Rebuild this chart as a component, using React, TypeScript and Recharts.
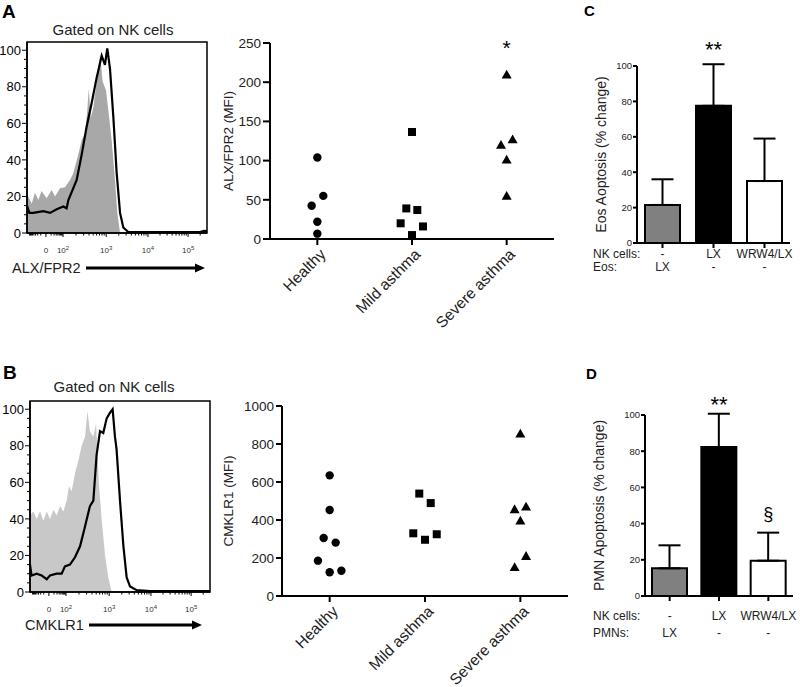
import {
  Area,
  Bar,
  BarChart,
  Cell,
  ComposedChart,
  ErrorBar,
  Line,
  ReferenceArea,
  ReferenceDot,
  Scatter,
  ScatterChart,
  XAxis,
  YAxis,
} from 'recharts';

const FONT = '"Liberation Sans", Arial, sans-serif';

// --- histograms (x in display channels 0..1000, y in % of max) ---
const histMajorTicks = [105, 200, 440, 672, 895];
const histTickLabels = ['0', '10^2', '10^3', '10^4', '10^5'];

const alxIsoX = [0, 7, 26, 44, 63, 81, 109, 137, 156, 183, 211, 239, 257, 285, 304, 322, 335, 343, 354, 369, 387, 406, 420, 439, 452, 470, 489, 502, 517, 1000];
const alxIsoY = [20, 20, 16, 22, 18, 23, 19, 23.5, 20, 24.5, 25, 29, 32.6, 43, 51, 54, 67, 79, 63, 69, 83, 98, 83, 78, 67, 51, 29, 11, 0, 0];
const alxStainX = [0, 13, 35, 91, 128, 165, 202, 220, 230, 276, 304, 331, 359, 387, 415, 433, 446, 461, 480, 498, 517, 535, 563, 961, 983, 1000];
const alxStainY = [15, 11, 11, 12, 11, 13, 14.5, 13.5, 18, 29, 43, 58, 71, 85, 97, 92, 101, 90, 63, 33, 11, 3, 0.5, 0.5, 1.2, 1];

const cmkIsoX = [0, 19, 37, 56, 74, 93, 111, 130, 148, 167, 185, 204, 217, 231, 250, 269, 287, 306, 319, 333, 352, 367, 382, 398, 417, 435, 454, 1000];
const cmkIsoY = [42, 44, 40, 44, 39, 44, 40, 45, 42, 47, 44, 50, 58, 55, 65, 72, 80, 85, 99, 88, 85, 92, 60, 40, 20, 8, 0, 0];
const cmkStainX = [0, 9, 37, 65, 93, 111, 148, 176, 194, 222, 250, 278, 306, 333, 352, 370, 389, 407, 426, 444, 459, 472, 481, 500, 519, 537, 556, 593, 667, 1000];
const cmkStainY = [15, 9, 10, 9, 7, 9, 10, 10, 14, 15, 19, 25, 36, 47, 50, 75, 88, 87, 95, 98, 100, 85, 78, 50, 25, 8, 3, 1, 0.5, 0.5];

// --- scatter panels ---
const groups = ['Healthy', 'Mild asthma', 'Severe asthma'];

const alxHealthy = [104, 55, 42.5, 22, 6.8];
const alxHealthyJit = [0, 0.063, -0.06, 0, 0];
const alxMild = [136.5, 39, 37, 20, 16, 5];
const alxMildJit = [0, -0.06, 0.056, -0.12, 0.116, 0];
const alxSevere = [209.6, 127, 120, 101, 55];
const alxSevereJit = [0, 0.063, -0.06, 0, 0];

const cmkHealthy = [635, 453, 305, 281, 186, 133, 125];
const cmkHealthyJit = [0, 0, -0.063, 0.063, -0.123, 0.123, 0];
const cmkMild = [539, 489, 330, 325, 296];
const cmkMildJit = [-0.06, 0.06, -0.123, 0.123, 0];
const cmkSevere = [854, 456, 470, 396, 210, 151];
const cmkSevereJit = [0, -0.06, 0.06, 0, 0.06, -0.06];

// --- bar panels ---
const barCats = ['a', 'b', 'c'];
const barFills = ['#808080', '#000000', '#ffffff'];
const eosMean = [21.5, 77.5, 35];
const eosErr = [14.5, 23.5, 24];
const eosSig = ['', '**', ''];
const eosRowNK = ['-', 'LX', 'WRW4/LX'];
const eosRowEos = ['LX', '-', '-'];

const pmnMean = [15.3, 82.3, 19.5];
const pmnErr = [12.7, 18.4, 15.5];
const pmnSig = ['', '**', '§'];
const pmnRowNK = ['-', 'LX', 'WRW4/LX'];
const pmnRowPMN = ['LX', '-', '-'];

const pts = (vals: number[], jit: number[], cat: number) =>
  vals.map((v, i) => ({ x: cat + jit[i], y: v }));

const toXY = (xs: number[], ys: number[]) => xs.map((x, i) => ({ x, y: ys[i] }));

// minor ticks for the biexponential axis
const minorTicks: number[] = [];
[[105, 95], [200, 240], [440, 232], [672, 223], [895, 223]].forEach(([a, span]) => {
  for (let k = 2; k <= 9; k++) {
    const v = a + span * Math.log10(k);
    if (v < 1000) minorTicks.push(v);
  }
});
for (let k = 2; k <= 9; k++) minorTicks.push(105 - 95 * Math.log10(k));
const histTicks = [...histMajorTicks, ...minorTicks.filter((v) => v > 0)].sort((a, b) => a - b);
const histYTicks = Array.from({ length: 21 }, (_, i) => i * 5);

function HistXTick({ x, y, payload }: any) {
  const i = histMajorTicks.indexOf(payload.value);
  const major = i >= 0;
  const [base, exp] = major ? histTickLabels[i].split('^') : ['', undefined];
  return (
    <g>
      <line x1={x} y1={y} x2={x} y2={y + (major ? 4 : 2.5)} stroke="#000" strokeWidth={1} />
      {major && (
        <text x={x} y={y + 20} textAnchor="middle" fontSize={8} fill="#333" fontFamily={FONT}>
          {base}
          {exp && (
            <tspan dy={-3} fontSize={6}>
              {exp}
            </tspan>
          )}
        </text>
      )}
    </g>
  );
}

function HistYTick({ x, y, payload }: any) {
  const major = payload.value % 20 === 0;
  return (
    <g>
      <line x1={x} y1={y} x2={x - (major ? 5 : 3)} y2={y} stroke="#000" strokeWidth={1} />
      {major && (
        <text x={x - 6} y={y} dy="0.36em" textAnchor="end" fontSize={13} fontFamily={FONT} fill="#000">
          {payload.value}
        </text>
      )}
    </g>
  );
}

function Histogram({ iso, stain, isoFill }: { iso: any[]; stain: any[]; isoFill: string }) {
  return (
    <ComposedChart width={215} height={260} margin={{ top: 42, right: 8, bottom: 0, left: 0 }}>
      <XAxis
        type="number"
        dataKey="x"
        domain={[0, 1000]}
        ticks={histTicks}
        interval={0}
        tick={(p: any) => <HistXTick {...p} />}
        tickLine={false}
        tickSize={0}
        tickMargin={0}
        height={27}
        axisLine={{ stroke: '#000', strokeWidth: 1.5 }}
      />
      <YAxis
        type="number"
        domain={[0, 104.5]}
        ticks={histYTicks}
        interval={0}
        tick={(p: any) => <HistYTick {...p} />}
        tickLine={false}
        tickSize={0}
        tickMargin={0}
        width={27}
        axisLine={{ stroke: '#000', strokeWidth: 1.5 }}
        allowDataOverflow
      />
      <Area data={iso} dataKey="y" type="linear" fill={isoFill} fillOpacity={1} stroke="none" isAnimationActive={false} />
      <Line data={stain} dataKey="y" type="linear" stroke="#000" strokeWidth={2.2} dot={false} isAnimationActive={false} />
      <ReferenceArea x1={0} x2={1000} y1={0} y2={104.5} fillOpacity={0} stroke="#000" strokeWidth={1.5} ifOverflow="visible" />
    </ComposedChart>
  );
}

const Dot = ({ cx, cy }: any) => <circle cx={cx} cy={cy} r={4.2} fill="#000" />;
const Sq = ({ cx, cy }: any) => <rect x={cx - 4} y={cy - 4} width={8} height={8} fill="#000" />;
const Tri = ({ cx, cy }: any) => <path d={`M${cx} ${cy - 5}L${cx + 5} ${cy + 3.8}L${cx - 5} ${cy + 3.8}Z`} fill="#000" />;

function CatTick({ x, y, payload }: any) {
  const ax = x + 6;
  const ay = y + 13;
  return (
    <g>
      <line x1={x} y1={y} x2={x} y2={y + 6} stroke="#000" strokeWidth={2} />
      <text x={ax} y={ay} dy="0.3em" textAnchor="end" transform={`rotate(-45 ${ax} ${ay})`} fontSize={15.5} fontFamily={FONT} fill="#222">
        {groups[payload.value - 1]}
      </text>
    </g>
  );
}

const SigText = (text: string, dy: number, size: number) => (p: any) => (
  <text x={p.cx} y={p.cy + dy} textAnchor="middle" fontSize={size} fontFamily={FONT} fill="#000">
    {text}
  </text>
);

function Dotplot(props: {
  width: number;
  height: number;
  margin: any;
  yWidth: number;
  xHeight: number;
  labelOffset: number;
  yMax: number;
  yTicks: number[];
  label: string;
  sets: any[][];
  tickSize: number;
  star?: { x: number; y: number };
}) {
  const { width, height, margin, yWidth, xHeight, labelOffset, yMax, yTicks, label, sets, tickSize, star } = props;
  const shapes = [Dot, Sq, Tri];
  return (
    <ScatterChart width={width} height={height} margin={margin}>
      <XAxis
        type="number"
        dataKey="x"
        domain={[0.5, 3.5]}
        ticks={[1, 2, 3]}
        interval={0}
        tick={(p: any) => <CatTick {...p} />}
        tickLine={false}
        tickSize={0}
        tickMargin={0}
        height={xHeight}
        axisLine={{ stroke: '#000', strokeWidth: 2 }}
      />
      <YAxis
        type="number"
        dataKey="y"
        domain={[0, yMax]}
        ticks={yTicks}
        interval={0}
        width={yWidth}
        tickSize={tickSize}
        tickMargin={2}
        tick={{ fontSize: 13.5, fill: '#222', fontFamily: FONT }}
        tickLine={{ stroke: '#000', strokeWidth: 2 }}
        axisLine={{ stroke: '#000', strokeWidth: 2 }}
        label={{
          value: label,
          angle: -90,
          position: 'insideLeft',
          offset: labelOffset,
          style: { textAnchor: 'middle', fontSize: 13.5, fontFamily: FONT, fill: '#222' },
        }}
      />
      {sets.map((d, i) => (
        <Scatter key={i} data={d} shape={shapes[i]} isAnimationActive={false} />
      ))}
      {star && (
        <ReferenceDot x={star.x} y={star.y} r={0} ifOverflow="visible" shape={SigText('*', 12, 21)} />
      )}
    </ScatterChart>
  );
}

function BarPanel(props: {
  width: number;
  height: number;
  margin: any;
  yWidth: number;
  xHeight: number;
  labelOffset: number;
  label: string;
  mean: number[];
  err: number[];
  sig: string[];
  sigDy: number[];
  rows: string[][];
  rowDy: number[];
}) {
  const { width, height, margin, yWidth, xHeight, labelOffset, label, mean, err, sig, sigDy, rows, rowDy } = props;
  const data = barCats.map((c, i) => ({ cat: c, mean: mean[i], err: [0, err[i]] }));
  const Tick = ({ x, y, index }: any) => (
    <g>
      <line x1={x} y1={y} x2={x} y2={y + 5} stroke="#000" strokeWidth={2} />
      {rows.map((r, k) => (
        <text key={k} x={x} y={y + rowDy[k]} dy="0.35em" textAnchor="middle" fontSize={12} fontFamily={FONT} fill="#222">
          {r[index]}
        </text>
      ))}
    </g>
  );
  return (
    <BarChart width={width} height={height} data={data} margin={margin}>
      <XAxis
        dataKey="cat"
        interval={0}
        tick={(p: any) => <Tick {...p} />}
        tickLine={false}
        tickSize={0}
        tickMargin={0}
        height={xHeight}
        axisLine={{ stroke: '#000', strokeWidth: 2 }}
      />
      <YAxis
        type="number"
        domain={[0, 100]}
        ticks={[0, 20, 40, 60, 80, 100]}
        interval={0}
        width={yWidth}
        tickSize={4}
        tickMargin={1}
        tick={{ fontSize: 9.5, fill: '#222', fontFamily: FONT }}
        tickLine={{ stroke: '#000', strokeWidth: 2 }}
        axisLine={{ stroke: '#000', strokeWidth: 2 }}
        allowDataOverflow
        label={{
          value: label,
          angle: -90,
          position: 'insideLeft',
          offset: labelOffset,
          style: { textAnchor: 'middle', fontSize: 14, fontFamily: FONT, fill: '#222' },
        }}
      />
      <Bar dataKey="mean" barSize={35} stroke="#000" strokeWidth={2} isAnimationActive={false}>
        {data.map((_, i) => (
          <Cell key={i} fill={barFills[i]} />
        ))}
        <ErrorBar dataKey="err" width={11} stroke="#000" strokeWidth={2} />
      </Bar>
      {sig.map((s, i) =>
        s ? (
          <ReferenceDot
            key={i}
            x={barCats[i]}
            y={mean[i] + err[i]}
            r={0}
            ifOverflow="visible"
            shape={SigText(s, -sigDy[i], s === '§' ? 18 : 22)}
          />
        ) : null,
      )}
    </BarChart>
  );
}

function Arrow({ x1, x2, y }: { x1: number; x2: number; y: number }) {
  return (
    <g>
      <line x1={x1} y1={y} x2={x2 - 8} y2={y} stroke="#000" strokeWidth={3} />
      <path d={`M${x2} ${y}L${x2 - 10} ${y - 4.5}L${x2 - 10} ${y + 4.5}Z`} fill="#000" />
    </g>
  );
}

export default function App() {
  const abs = (left: number, top: number) => ({ position: 'absolute' as const, left, top });
  return (
    <div style={{ position: 'absolute', left: 0, top: 0, width: 800, height: 687, background: '#fff', fontFamily: FONT, overflow: 'hidden' }}>
      <div style={abs(0, 0)}>
        <Histogram iso={toXY(alxIsoX, alxIsoY)} stain={toXY(alxStainX, alxStainY)} isoFill="#a8a8a8" />
      </div>
      <div style={abs(3, 359)}>
        <Histogram iso={toXY(cmkIsoX, cmkIsoY)} stain={toXY(cmkStainX, cmkStainY)} isoFill="#c8c8c8" />
      </div>
      <div style={abs(210, 0)}>
        <Dotplot
          width={350}
          height={340}
          margin={{ top: 43, right: 6, bottom: 0, left: 5 }}
          yWidth={55}
          xHeight={101}
          labelOffset={13}
          yMax={250}
          yTicks={[0, 50, 100, 150, 200, 250]}
          label="ALX/FPR2 (MFI)"
          tickSize={7}
          sets={[pts(alxHealthy, alxHealthyJit, 1), pts(alxMild, alxMildJit, 2), pts(alxSevere, alxSevereJit, 3)]}
          star={{ x: 3, y: 250 }}
        />
      </div>
      <div style={abs(215, 340)}>
        <Dotplot
          width={360}
          height={347}
          margin={{ top: 66, right: 7, bottom: 0, left: 0 }}
          yWidth={67}
          xHeight={91}
          labelOffset={13}
          yMax={1000}
          yTicks={[0, 200, 400, 600, 800, 1000]}
          label="CMKLR1 (MFI)"
          tickSize={6}
          sets={[pts(cmkHealthy, cmkHealthyJit, 1), pts(cmkMild, cmkMildJit, 2), pts(cmkSevere, cmkSevereJit, 3)]}
        />
      </div>
      <div style={abs(540, 0)}>
        <BarPanel
          width={260}
          height={280}
          margin={{ top: 66, right: 10, bottom: 0, left: 55 }}
          yWidth={42}
          xHeight={37}
          labelOffset={6}
          label="Eos Aoptosis (% change)"
          mean={eosMean}
          err={eosErr}
          sig={eosSig}
          sigDy={[0, 7, 0]}
          rows={[eosRowNK, eosRowEos]}
          rowDy={[11, 24]}
        />
      </div>
      <div style={abs(540, 320)}>
        <BarPanel
          width={260}
          height={330}
          margin={{ top: 95, right: 7, bottom: 0, left: 50 }}
          yWidth={55}
          xHeight={54}
          labelOffset={9}
          label="PMN Apoptosis (% change)"
          mean={pmnMean}
          err={pmnErr}
          sig={pmnSig}
          sigDy={[0, 2, 13]}
          rows={[pmnRowNK, pmnRowPMN]}
          rowDy={[20, 37]}
        />
      </div>
      <svg width={800} height={687} style={{ position: 'absolute', left: 0, top: 0, pointerEvents: 'none' }} fontFamily={FONT}>
        <text x={2} y={18} fontSize={19} fontWeight="bold">A</text>
        <text x={113} y={35} fontSize={15} textAnchor="middle" fill="#222">Gated on NK cells</text>
        <text x={12} y={273} fontSize={14.5} fill="#222">ALX/FPR2</text>
        <Arrow x1={86} x2={205} y={268} />
        <text x={3} y={379} fontSize={19} fontWeight="bold">B</text>
        <text x={114} y={392} fontSize={15} textAnchor="middle" fill="#222">Gated on NK cells</text>
        <text x={25} y={630} fontSize={14.5} fill="#222">CMKLR1</text>
        <Arrow x1={89} x2={202} y={625} />
        <text x={584} y={16} fontSize={15} fontWeight="bold">C</text>
        <text x={586} y={379} fontSize={15} fontWeight="bold">D</text>
        <text x={593} y={258} fontSize={12} fill="#222">NK cells:</text>
        <text x={593} y={271} fontSize={12} fill="#222">Eos:</text>
        <text x={593} y={620} fontSize={12} fill="#222">NK cells:</text>
        <text x={593} y={637} fontSize={12} fill="#222">PMNs:</text>
      </svg>
    </div>
  );
}
